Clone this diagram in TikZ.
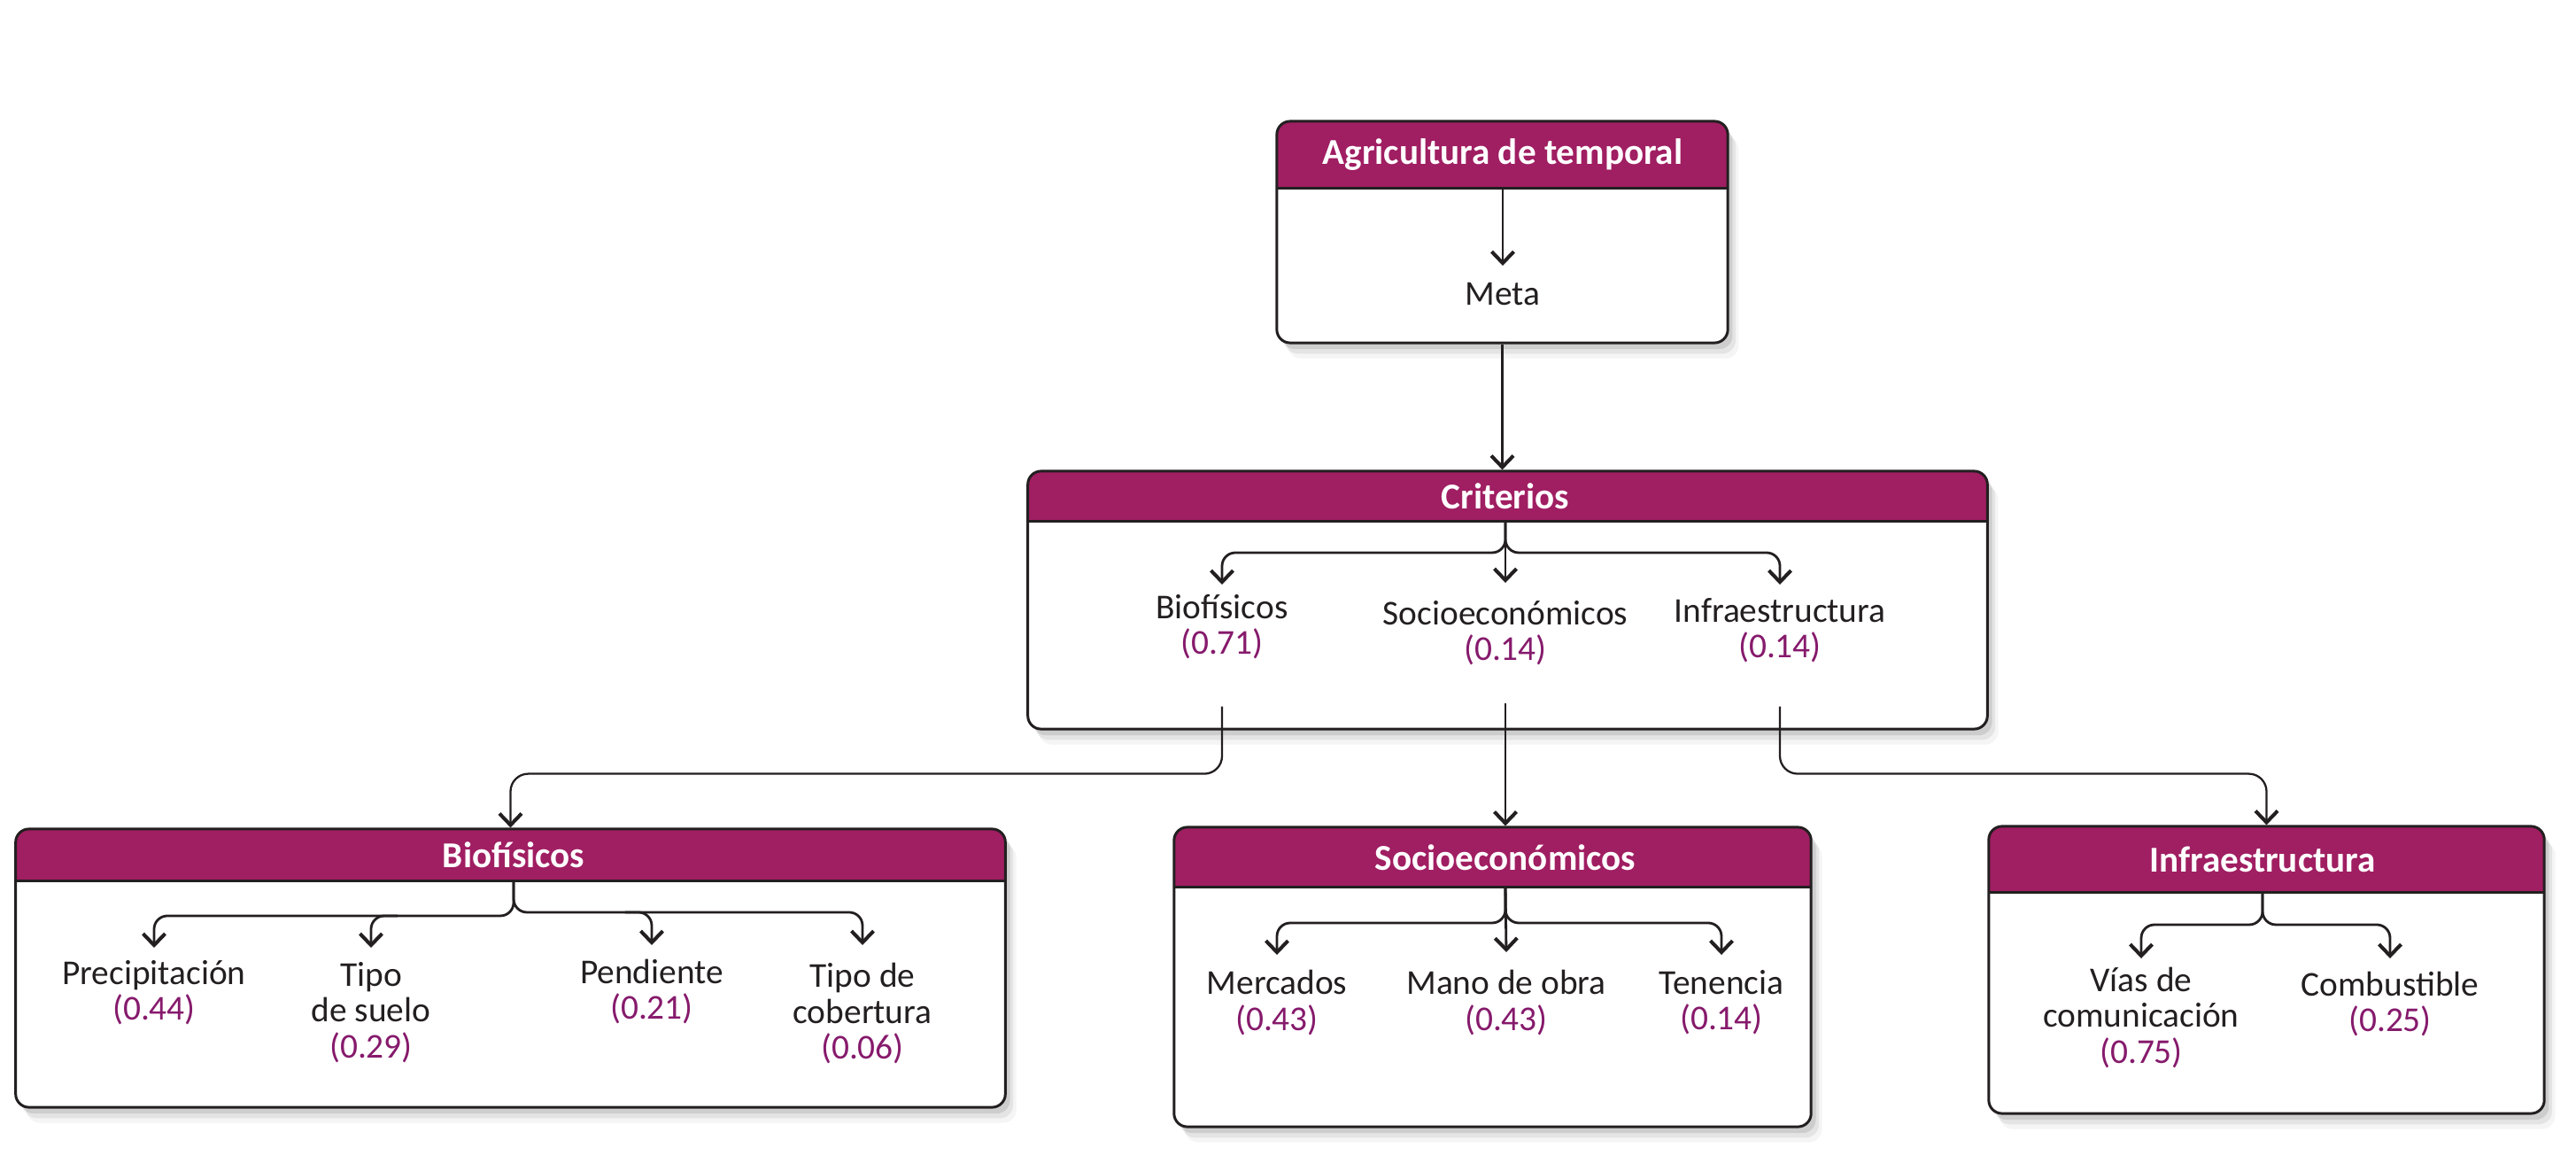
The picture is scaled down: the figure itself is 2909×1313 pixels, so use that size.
\documentclass[tikz,border=0pt]{standalone}
\usepackage{fontspec}
\setmainfont{Carlito}
\usetikzlibrary{arrows.meta,shadows,calc}
\definecolor{hdr}{HTML}{A01E62}
\definecolor{numc}{HTML}{861A6C}
\definecolor{ink}{HTML}{231F20}
\newcommand\wnum[1]{\textcolor{numc}{(#1)}}
\begin{document}
\begin{tikzpicture}[x=0.01cm,y=-0.01cm,
  shad/.style={drop shadow={shadow xshift=1.5pt,shadow yshift=-2pt,opacity=.10,fill=black},
               drop shadow={shadow xshift=2.5pt,shadow yshift=-3.5pt,opacity=.07,fill=black},
               drop shadow={shadow xshift=3.5pt,shadow yshift=-5pt,opacity=.04,fill=black}},
  box/.style={draw=ink, line width=0.85pt, rounded corners=0.15cm, fill=white, inner sep=0pt, shad,
    path picture={
      \fill[hdr,sharp corners] ([yshift=3pt]path picture bounding box.north west) rectangle ([yshift=-#1]path picture bounding box.north east);
      \draw[ink,line width=0.85pt,sharp corners] ([yshift=-#1]path picture bounding box.north west) -- ([yshift=-#1]path picture bounding box.north east);}},
  ttl/.style={font=\fontsize{11.7}{14}\selectfont\bfseries, text=white, inner sep=0pt, minimum height=#1},
  lbl/.style={font=\fontsize{11.2}{11.5}\selectfont, align=center, anchor=north, inner xsep=0pt, inner ysep=3pt, text=ink},
  tipa/.style={-{Straight Barb[length=0.13cm,width=0.25cm,line width=1.15pt]}},
  br/.style={draw=ink, line width=0.8pt, rounded corners=0.15cm, tipa},
  conn/.style={draw=ink, line width=0.65pt, rounded corners=0.2cm, tipa}
]
\useasboundingbox (0,0) rectangle (2909,1313);

% top box
\node[box=0.76cm, minimum width=5.09cm, minimum height=2.5cm] (agri) at (1696.5,262) {};
\node[ttl=0.76cm] (agrit) at (1697,175) {Agricultura de temporal};
\node[lbl, inner ysep=5.4pt] (meta) at (1697,300) {Meta};
\draw[br] (agrit.south) -- (meta.north);

% criterios
\node[box=0.57cm, minimum width=10.83cm, minimum height=2.91cm] (crit) at (1702.5,677.5) {};
\node[ttl=0.57cm] (critt) at (1700,560.5) {Criterios};
\draw[conn] (agri.south) -- (agri.south |- crit.north);
\node[lbl] (cb) at (1380,660) {Biofísicos\\\wnum{0.71}};
\node[lbl, inner ysep=5.6pt] (cs) at (1700,658) {Socioeconómicos\\\wnum{0.14}};
\node[lbl, inner ysep=4.1pt] (ci) at (2010,660) {Infraestructura\\\wnum{0.14}};
\draw[br] (critt.south) |- ([yshift=0.36cm]cb.north) -- (cb.north);
\draw[br] (critt.south) |- ([yshift=0.36cm]ci.north) -- (ci.north);
\draw[br] (critt.south) -- (cs.north);

% biofisicos
\node[box=0.59cm, minimum width=11.17cm, minimum height=3.14cm] (bio) at (576.5,1093) {};
\node[ttl=0.59cm] (biot) at (580,965.5) {Biofísicos};
\node[lbl, inner ysep=3.9pt] (bp) at (174,1070) {Precipitación\\\wnum{0.44}};
\node[lbl, inner ysep=4.4pt] (bt) at (419,1070) {Tipo\\de suelo\\\wnum{0.29}};
\node[lbl, inner ysep=4.4pt] (bpe) at (736,1067) {Pendiente\\\wnum{0.21}};
\node[lbl, inner ysep=5.6pt] (bc) at (974,1067) {Tipo de\\cobertura\\\wnum{0.06}};
\draw[br] (biot.south) |- ([yshift=0.36cm]bp.north) -- (bp.north);
\draw[br] (biot.south) |- ([yshift=0.37cm]bc.north) -- (bc.north);
\draw[br] ([xshift=0.3cm,yshift=0.36cm]bt.north) -| (bt.north);
\draw[br] ([xshift=-0.3cm,yshift=0.37cm]bpe.north) -| (bpe.north);

% socioeconomicos
\node[box=0.68cm, minimum width=7.19cm, minimum height=3.38cm] (soc) at (1685.5,1103) {};
\node[ttl=0.68cm] (soct) at (1700,968) {Socioeconómicos};
\node[lbl, inner ysep=4.7pt] (sm) at (1442,1078) {Mercados\\\wnum{0.43}};
\node[lbl, inner ysep=5.6pt] (so) at (1701,1075) {Mano de obra\\\wnum{0.43}};
\node[lbl, inner ysep=4.7pt] (st) at (1944,1078) {Tenencia\\\wnum{0.14}};
\draw[br] (soct.south) |- ([yshift=0.36cm]sm.north) -- (sm.north);
\draw[br] (soct.south) |- ([yshift=0.36cm]st.north) -- (st.north);
\draw[br] (soct.south) -- (so.north);

% infraestructura
\node[box=0.75cm, minimum width=6.27cm, minimum height=3.24cm] (inf) at (2559.5,1095) {};
\node[ttl=0.75cm] (inft) at (2555,970.5) {Infraestructura};
\node[lbl, inner ysep=2.7pt] (iv) at (2418,1082) {Vías de\\comunicación\\\wnum{0.75}};
\node[lbl, inner ysep=4.1pt] (ic) at (2699,1082) {Combustible\\\wnum{0.25}};
\draw[br] (inft.south) |- ([yshift=0.38cm]iv.north) -- (iv.north);
\draw[br] (inft.south) |- ([yshift=0.38cm]ic.north) -- (ic.north);

% connectors between levels
\coordinate (cbo) at ($(cb.south |- crit.south)+(0,-27)$);
\coordinate (cso) at ($(cs.south |- crit.south)+(0,-31)$);
\coordinate (cio) at ($(ci.south |- crit.south)+(0,-27)$);
\draw[conn] (cbo) -- ++(0,76) -| (bio.north);
\draw[conn] (cso) -- (cso |- soc.north);
\draw[conn] (cio) -- ++(0,76) -| (inf.north);
\end{tikzpicture}
\end{document}
